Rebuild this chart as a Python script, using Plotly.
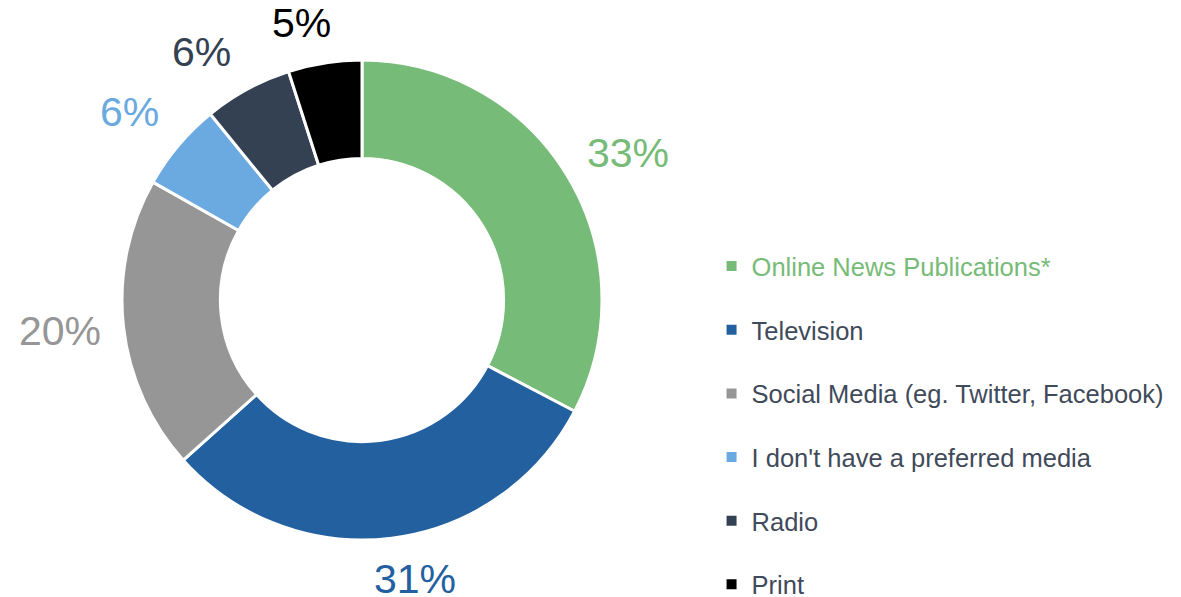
import math
import plotly.graph_objects as go

# Preferred media for news
categories = [
    "Online News Publications*",
    "Television",
    "Social Media (eg. Twitter, Facebook)",
    "I don't have a preferred media",
    "Radio",
    "Print",
]
shares = [33, 31, 20, 6, 6, 5]
colors = ["#76bb77", "#23609f", "#969696", "#6aaae0", "#334152", "#000000"]
legend_text_colors = ["#76bb77", "#3f4a5a", "#3f4a5a", "#3f4a5a", "#3f4a5a", "#3f4a5a"]

# Small manual nudges (px) for the percentage labels, to keep them clear of each other
label_nudge = [(3, 0), (15, -3), (3, 0), (-6, -5), (-19, 2), (-15, 4)]

W, H = 1181, 597
cx_px, cy_px, r_px = 362, 300, 240
dom_x = [(cx_px - r_px) / W, (cx_px + r_px) / W]
dom_y = [(H - cy_px - r_px) / H, (H - cy_px + r_px) / H]
LABEL_FONT = 41

fig = go.Figure()
fig.add_trace(go.Pie(
    labels=categories,
    values=shares,
    hole=0.59,
    sort=False,
    direction="clockwise",
    rotation=0,
    marker=dict(colors=colors, line=dict(color="white", width=3)),
    textinfo="none",
    showlegend=False,
    domain=dict(x=dom_x, y=dom_y),
))

# Percentage labels: a text box pushed outward from the ring along each slice's mid-angle
total = sum(shares)
acc = 0
gap_r = 268
for val, col, (nx, ny) in zip(shares, colors, label_nudge):
    mid = (acc + val / 2) / total * 2 * math.pi
    acc += val
    txt = f"{val}%"
    half_w = 0.5 * LABEL_FONT * (0.556 * (len(txt) - 1) + 0.889) * 0.95
    half_h = 16
    s, c = math.sin(mid), math.cos(mid)
    x_px = cx_px + (gap_r + half_w) * s + nx
    y_px = cy_px - (gap_r + half_h) * c + ny
    fig.add_annotation(
        x=x_px / W, y=(H - y_px) / H, xref="paper", yref="paper",
        text=txt, showarrow=False,
        font=dict(size=LABEL_FONT, color=col, family="Liberation Sans, Arial, sans-serif"),
        xanchor="center", yanchor="middle",
    )

# Legend entries
for i, (name, col, tcol) in enumerate(zip(categories, colors, legend_text_colors)):
    fig.add_trace(go.Scatter(
        x=[None], y=[None], mode="markers",
        marker=dict(symbol="square", size=10, color=col),
        name=f"<span style='color:{tcol}'>{name}</span>",
        legendgroup=f"g{i}",
        showlegend=True,
    ))

fig.update_layout(
    width=W, height=H,
    margin=dict(l=0, r=0, t=0, b=0, autoexpand=False),
    paper_bgcolor="white",
    plot_bgcolor="white",
    xaxis=dict(visible=False),
    yaxis=dict(visible=False),
    showlegend=True,
    legend=dict(
        x=0.6025, y=(H - 243) / H, xanchor="left", yanchor="top",
        traceorder="grouped", tracegroupgap=27.5,
        font=dict(size=25.5, color="#3f4a5a", family="Liberation Sans, Arial, sans-serif"),
        bgcolor="rgba(0,0,0,0)",
        itemclick=False,
    ),
)

fig.write_html("out.html")
